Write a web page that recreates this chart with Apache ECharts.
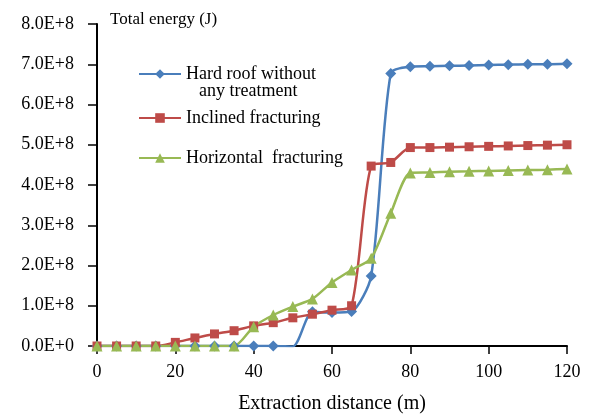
<!DOCTYPE html>
<html>
<head>
  <meta charset="utf-8">
  <title>Total energy</title>
  <script src="https://cdn.jsdelivr.net/npm/echarts@6/dist/echarts.min.js"></script>
  <style>
    html, body { margin: 0; padding: 0; background: #fff; }
    #main { width: 591px; height: 416px; }
  </style>
</head>
<body>
  <div id="main"></div>
  <script>
    // extraction distance (m)
    var distance = [0, 5, 10, 15, 20, 25, 30, 35, 40, 45, 50, 55, 60, 65, 70, 75, 80, 85, 90, 95, 100, 105, 110, 115, 120];

    // total energy, in units of 1E+8 J
    var hardRoof = [0, 0, 0, 0, 0, 0, 0, 0, 0, 0, -0.01, 0.85, 0.83, 0.86, 1.74, 6.77, 6.94, 6.95, 6.96, 6.97, 6.98, 6.99, 7.0, 7.0, 7.01];
    var inclined = [0, 0, 0, 0, 0.09, 0.2, 0.3, 0.38, 0.5, 0.58, 0.7, 0.79, 0.89, 1.0, 4.47, 4.56, 4.93, 4.93, 4.94, 4.95, 4.96, 4.97, 4.98, 4.99, 5.0];
    var horizontal = [0, 0, 0, 0, 0, 0, 0, 0, 0.48, 0.77, 0.98, 1.17, 1.58, 1.89, 2.18, 3.3, 4.3, 4.31, 4.33, 4.34, 4.35, 4.36, 4.37, 4.38, 4.4];

    var yTicks = ['0.0E+0', '1.0E+8', '2.0E+8', '3.0E+8', '4.0E+8', '5.0E+8', '6.0E+8', '7.0E+8', '8.0E+8'];

    var serif = '"Liberation Serif", "Times New Roman", serif';

    function pairs(arr) {
      return arr.map(function (v, i) { return [distance[i], v * 1e8]; });
    }

    var chart = echarts.init(document.getElementById('main'));

    // one legend box per series, so each can sit at its own height
    function legendAt(name, top) {
      return {
        data: [name],
        left: 133,
        top: top,
        itemWidth: 42,
        itemHeight: 12,
        selectedMode: false,
        formatter: function (n) { return n === 'Hard roof without any treatment' ? 'Hard roof without' : n; },
        textStyle: { fontFamily: serif, fontSize: 18, color: '#000' }
      };
    }

    var option = {
      animation: false,
      textStyle: { fontFamily: serif },
      grid: { left: 97, right: 24, top: 24, bottom: 70, outerBoundsMode: 'none' },
      legend: [
        legendAt('Hard roof without any treatment', 60),
        legendAt('Inclined fracturing', 104),
        legendAt('Horizontal  fracturing', 144)
      ],
      graphic: [{
        type: 'text', left: 199, top: 82,
        style: { text: 'any treatment', font: '18px ' + serif, fill: '#000' }
      }, {
        type: 'text', left: 110, top: 11,
        style: { text: 'Total energy (J)', font: '17px ' + serif, fill: '#000' }
      }],
      xAxis: {
        type: 'value',
        min: 0, max: 120, interval: 20,
        name: 'Extraction distance (m)',
        nameLocation: 'middle',
        nameGap: 48,
        nameTextStyle: { fontFamily: serif, fontSize: 20, color: '#000' },
        axisLine: { lineStyle: { color: '#000', width: 2 } },
        axisTick: { length: 8, lineStyle: { color: '#000', width: 1.5 } },
        axisLabel: { fontFamily: serif, fontSize: 18, color: '#000', margin: 17 },
        splitLine: { show: false }
      },
      yAxis: {
        type: 'value',
        min: 0, max: 8e8, interval: 1e8,
        axisLine: { show: true, lineStyle: { color: '#000', width: 2 } },
        axisTick: { show: true, length: 9, lineStyle: { color: '#000', width: 1.5 } },
        axisLabel: {
          fontFamily: serif, fontSize: 18, color: '#000', margin: 23,
          formatter: function (v) { return yTicks[Math.round(v / 1e8)]; }
        },
        splitLine: { show: false }
      },
      series: [{
        name: 'Hard roof without any treatment',
        type: 'line',
        data: pairs(hardRoof),
        smooth: 0.25,
        symbol: 'diamond',
        symbolSize: 11,
        color: '#4a7ebb',
        lineStyle: { width: 2.5 }
      }, {
        name: 'Inclined fracturing',
        type: 'line',
        data: pairs(inclined),
        smooth: 0.25,
        symbol: 'rect',
        symbolSize: 9,
        color: '#be4b48',
        lineStyle: { width: 2.5 }
      }, {
        name: 'Horizontal  fracturing',
        type: 'line',
        data: pairs(horizontal),
        smooth: 0.25,
        symbol: 'triangle',
        symbolSize: 11,
        color: '#98b954',
        lineStyle: { width: 2.5 }
      }]
    };

    chart.setOption(option);
  </script>
</body>
</html>
